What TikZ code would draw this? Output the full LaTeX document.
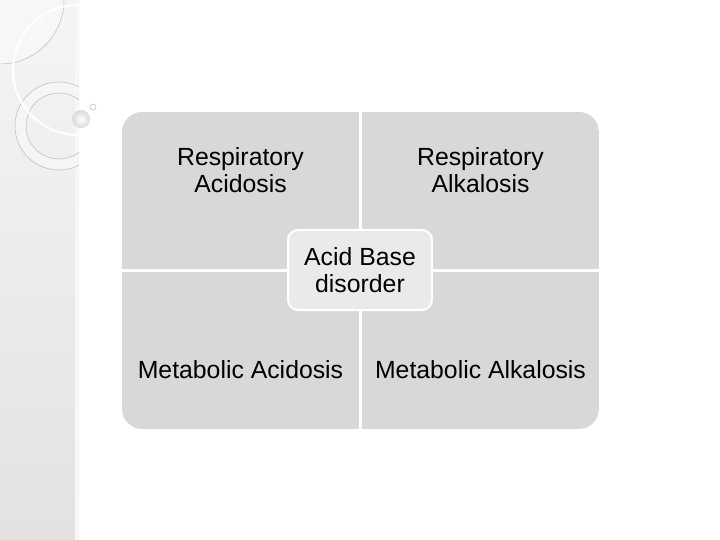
\documentclass[tikz,border=0pt]{standalone}
\usepackage{fontspec}
\setmainfont{Liberation Sans}
\definecolor{quadgray}{RGB}{216,216,216}
\definecolor{hubgray}{RGB}{234,234,234}
\definecolor{stripgray}{RGB}{226,226,226}
\tikzset{
  quad/.style={fill=quadgray},
  quadtext/.style={align=center,font=\fontsize{24.8}{27}\selectfont},
  hub/.style={draw=white,line width=2pt,fill=hubgray,rounded corners=10pt,
    minimum width=144pt,minimum height=80pt,align=center,
    font=\fontsize{24.8}{27}\selectfont},
  deco/.style={draw=gray!55,line width=0.5pt}
}
\begin{document}
\begin{tikzpicture}[x=1pt,y=-1pt]
\useasboundingbox (0,0) rectangle (720,540);
% side strip
\shade[top color=white!96!black,bottom color=stripgray] (0,0) rectangle (79,540);
\fill[gray!6] (75,0) rectangle (79,540);
\begin{scope}
\clip (0,0) rectangle (79,540);
\fill[white!97!black] (0,0) -- (64,0) arc[start angle=0,end angle=90,radius=64] -- cycle;
\draw[deco] (64,0) arc[start angle=0,end angle=90,radius=64];
\fill[white!96!black,even odd rule] (59,126) circle (44) (59,126) circle (33);
\draw[deco] (59,126) circle (44);
\draw[deco] (59,126) circle (33);
\draw[white,line width=2pt] (78,5) arc[start angle=270,end angle=90,radius=65];
\end{scope}
\shade[inner color=white,outer color=gray!30] (81,119) circle (9);
\draw[deco,fill=white] (93,107) circle (3);
% quadrants
\begin{scope}
\clip[rounded corners=20pt] (122,112) rectangle (599,429);
\fill[quad] (122,112) rectangle (359,269);
\fill[quad] (362,112) rectangle (599,269);
\fill[quad] (122,272) rectangle (359,429);
\fill[quad] (362,272) rectangle (599,429);
\end{scope}
\node[quadtext] (ra) at (240.5,170.5) {Respiratory\\Acidosis};
\node[quadtext] (rk) at (480.5,170.5) {Respiratory\\Alkalosis};
\node[quadtext] (ma) at (240.5,370) {Metabolic Acidosis};
\node[quadtext] (mk) at (480.5,370) {Metabolic Alkalosis};
\node[hub] (ab) at (360,270) {Acid Base\\disorder};
\end{tikzpicture}
\end{document}
